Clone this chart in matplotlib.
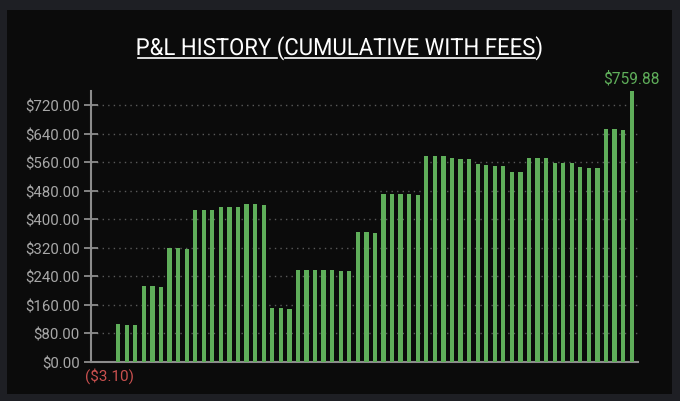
import matplotlib
matplotlib.use("Agg")
import matplotlib.pyplot as plt
from matplotlib.patches import Rectangle, PathPatch
from matplotlib.lines import Line2D
from matplotlib.textpath import TextPath
from matplotlib.font_manager import FontProperties
from matplotlib.ticker import FuncFormatter
import matplotlib.transforms as mtrans

# ---- data ----
pnl_values = [
    -3.10,
    105.6, 103.7, 101.9, 212.1, 211.2, 209.3, 319.5, 318.6, 316.7, 427.0,
    426.0, 426.0, 435.4, 435.4, 434.4, 443.8, 442.8, 441.0, 151.3, 149.6,
    148.5, 257.8, 256.9, 256.9, 257.8, 256.9, 255.0, 254.1, 364.3, 363.4,
    361.5, 471.8, 471.8, 471.8, 469.9, 468.0, 577.3, 577.3, 576.4, 570.8,
    569.9, 568.8, 553.9, 552.0, 550.3, 548.4, 533.5, 531.5, 572.7, 571.6,
    570.8, 558.7, 557.6, 556.8, 545.6, 544.7, 542.8, 654.0, 652.0, 650.1,
    759.88,
]
title_text = "P&L HISTORY (CUMULATIVE WITH FEES)"
max_label = "$759.88"
min_label = "($3.10)"
y_ticks = [0, 80, 160, 240, 320, 400, 480, 560, 640, 720]

plt.rcParams['font.family'] = ['Roboto', 'DejaVu Sans']

W, H = 680, 402
fig = plt.figure(figsize=(W / 100, H / 100), dpi=100)
fig.patch.set_facecolor('#1e1f24')
px = mtrans.Affine2D().scale(1 / W, 1 / H) + fig.transFigure  # pixel coords (y up)

# black panel
fig.patches.append(Rectangle((7, H - 395), 672 - 7, 395 - 11, transform=px,
                             facecolor='#0b0b0b', edgecolor='none', zorder=-10))

ax = fig.add_axes([91 / W, (H - 362.7) / H, (637.7 - 91) / W, (362.7 - 92) / H])
ax.set_facecolor('none')
ax.set_zorder(1)

x = list(range(len(pnl_values)))
colors = ['#c9504f' if v < 0 else '#5fae5a' for v in pnl_values]
ax.bar(x, pnl_values, width=0.5, color=colors, edgecolor='none', zorder=3)

ax.set_xlim(-2.18, 61.7)
ax.set_ylim(0, 760)
ax.set_yticks(y_ticks)
ax.yaxis.set_major_formatter(FuncFormatter(lambda v, p: f"${v:,.2f}"))
ax.set_xticks([])

ax.grid(axis='y', linestyle=(0, (1, 3)), color='#5a5a5a', linewidth=1, zorder=1)
ax.tick_params(axis='y', direction='inout', length=10, width=1.3, color='#8c8c8c',
               labelcolor='#a8a8a8', labelsize=10.8, pad=3)
for s in ['top', 'right']:
    ax.spines[s].set_visible(False)
for s in ['left', 'bottom']:
    ax.spines[s].set_color('#8c8c8c')
    ax.spines[s].set_linewidth(1.5)

# value labels
imax = max(range(len(pnl_values)), key=lambda i: pnl_values[i])
imin = min(range(len(pnl_values)), key=lambda i: pnl_values[i])
ax.annotate(max_label, (imax, pnl_values[imax]), xytext=(0, 4), textcoords='offset points',
            ha='center', va='bottom', color='#5fae5a', fontsize=11.2, annotation_clip=False)
ax.annotate(min_label, (imin, 0), xytext=(0, -4), textcoords='offset points',
            ha='center', va='top', color='#c9504f', fontsize=11, annotation_clip=False)

# title: slightly condensed Roboto drawn as a path, underlined except parentheses
fp = FontProperties(family='Roboto')
S = 23.5
tp = TextPath((0, 0), title_text, size=S, prop=fp)
ext = tp.get_extents()
left_px, right_px, base_px = 137.5, 541.5, H - 56
sx = (right_px - left_px) / ext.width
tt = mtrans.Affine2D().translate(-ext.x0, 0).scale(sx, 1).translate(left_px, base_px) + px
fig.patches.append(PathPatch(tp, transform=tt, facecolor='white', edgecolor='none', lw=0))

p1 = title_text.index('(')
p2 = title_text.index(')')
paren_w = TextPath((0, 0), '(', size=S, prop=fp).get_extents().width
lp_right = TextPath((0, 0), title_text[:p1 + 1], size=S, prop=fp).get_extents().x1
rp_right = TextPath((0, 0), title_text[:p2 + 1], size=S, prop=fp).get_extents().x1
lp_left = lp_right - paren_w
rp_left = rp_right - paren_w
segs = [(ext.x0, lp_left - 1.0), (lp_right + 1.0, rp_left - 1.0)]
uy = -3.2
for a, b in segs:
    fig.lines.append(Line2D([a, b], [uy, uy], transform=tt, color='white', linewidth=1.2))

fig.savefig('out.png', dpi=100, facecolor=fig.get_facecolor())
